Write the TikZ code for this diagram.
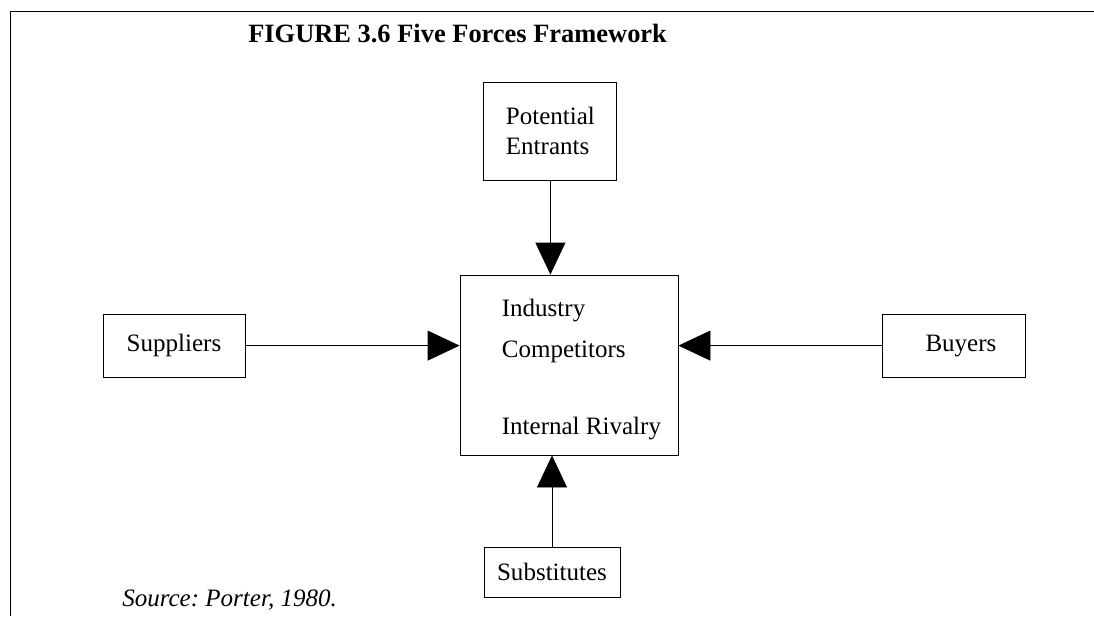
\documentclass[tikz,border=0pt]{standalone}
\usepackage{fontspec}
\setmainfont{Liberation Serif}
\usetikzlibrary{arrows.meta,positioning,calc}
\tikzset{
    every node/.style={font=\fontsize{17.8}{21.3}\selectfont},
}

\begin{document}
\begin{tikzpicture}[
        forcebox/.style={draw,line width=0.6pt,inner sep=0pt},
        push/.style={-{Triangle[length=8mm,width=7.5mm]},line width=0.6pt},
        frame/.style={line width=0.5pt}
    ]
    \useasboundingbox (0,0) rectangle (27.35,-15.4);

    % cornice della pagina
    \coordinate (fl) at (0.25,-0.275);
    \draw[frame] (27.35,-0.275) -- (fl) -- (0.25,-15.4);

    % titolo
    \node[anchor=west,inner sep=0pt,font=\fontsize{18.8}{22}\selectfont\bfseries] (title) at (6.2,-0.85) {FIGURE 3.6 Five Forces Framework};

    % concorrenti nel settore, al centro
    \node[forcebox,minimum width=5.45cm,minimum height=4.5cm] (ind) at (14.225,-9.125) {};
    \node[anchor=north west,align=left,inner sep=0pt] (indtxt) at ($(ind.north west)+(1.05,-0.6)$)
        {Industry\\[7.8pt]Competitors\\[34pt]Internal Rivalry};

    % le quattro forze esterne
    \node[forcebox,align=left,minimum width=3.325cm,minimum height=2.45cm] (pot) at (13.76,-3.275) {Potential\\Entrants};
    \node[forcebox,minimum width=3.55cm,minimum height=1.575cm] (sup) at (4.35,-8.64) {Suppliers};
    \node[forcebox,minimum width=3.575cm,minimum height=1.575cm,text width=2.1cm,align=right] (buy) at (23.86,-8.64) {Buyers};
    \node[forcebox,minimum width=3.4cm,minimum height=1.25cm] (sub) at (13.8,-14.3) {Substitutes};

    % frecce verso il centro
    \draw[push] (pot) -- (pot |- ind.north);
    \draw[push] (sup) -- (sup -| ind.west);
    \draw[push] (buy) -- (buy -| ind.east);
    \draw[push] (sub) -- (sub |- ind.south);

    % fonte
    \node[anchor=west,inner sep=0pt,font=\fontsize{17.8}{21.3}\selectfont\itshape\frenchspacing] (src) at (3.05,-15.0) {Source: Porter, 1980.};
\end{tikzpicture}
\end{document}
